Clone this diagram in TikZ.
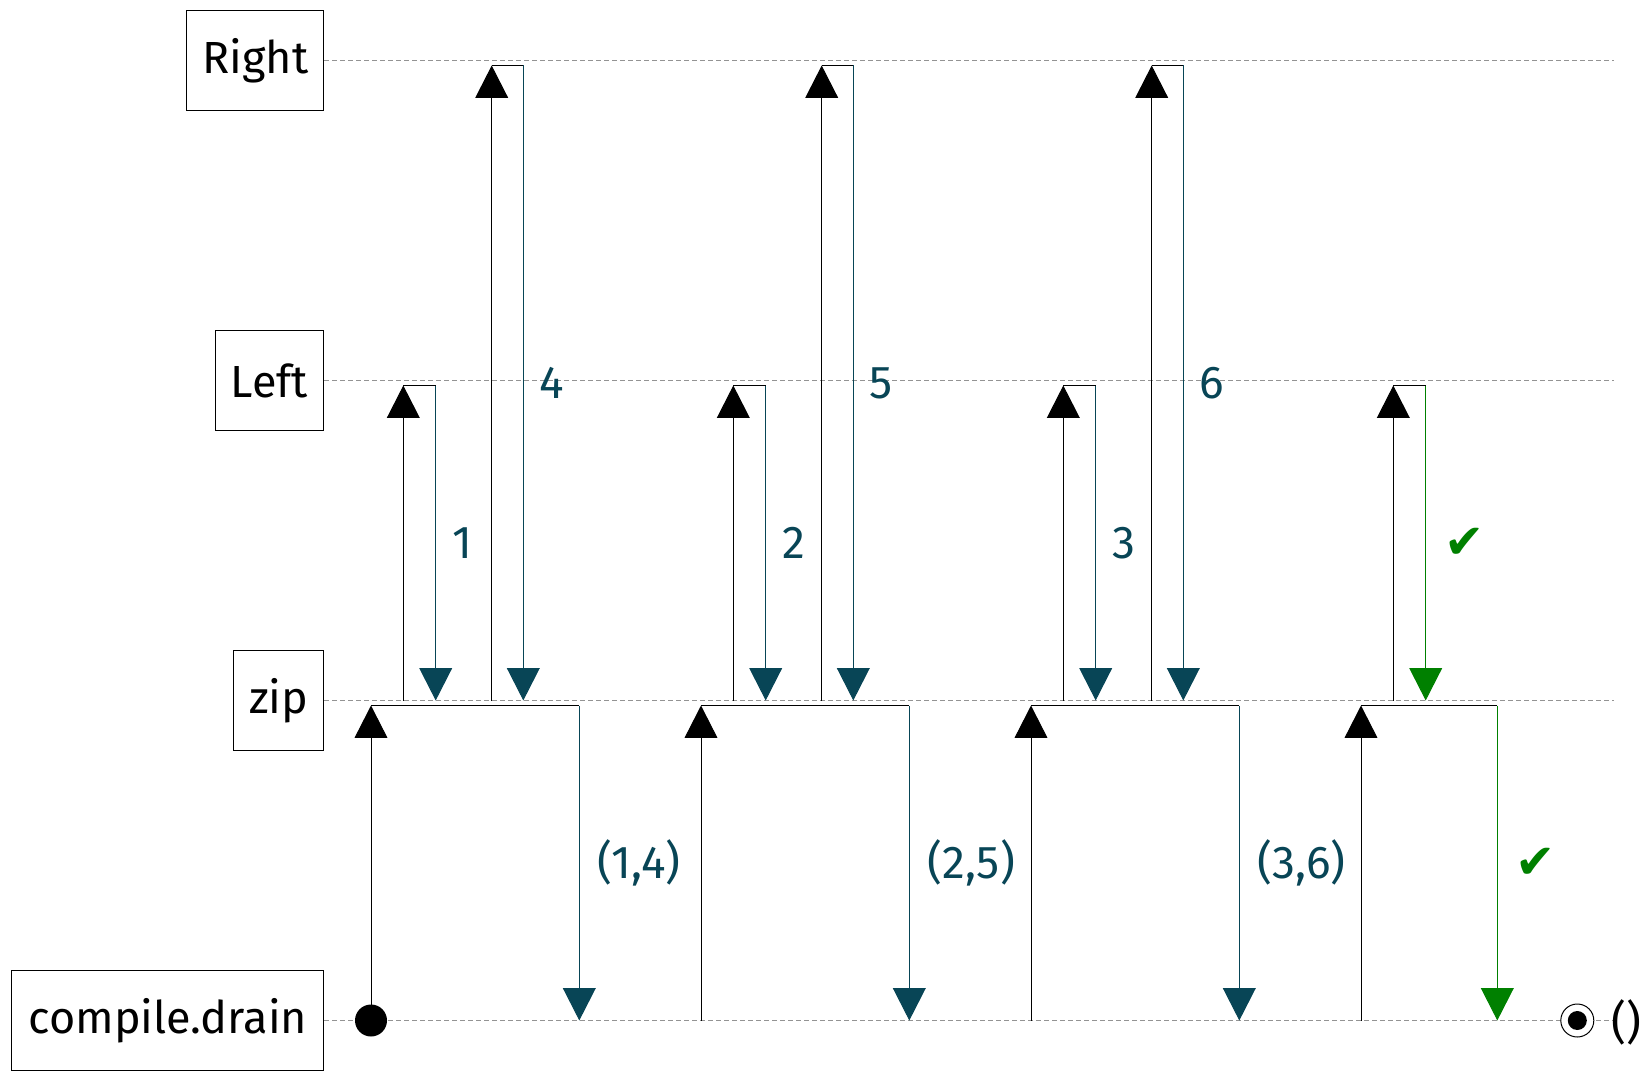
\documentclass[tikz,border=0pt]{standalone}
\usepackage{fontspec}
\setmainfont{Fira Sans}
\newfontfamily\symfont{DejaVu Sans}
\usetikzlibrary{arrows.meta}
\definecolor{tealc}{RGB}{8,69,86}
\definecolor{okgreen}{RGB}{0,128,0}
\tikzset{
  lane/.style={draw=gray!85, dash pattern=on 5pt off 3pt, line width=0.9pt},
  lanebox/.style={draw, line width=1pt, anchor=east, minimum height=100pt, inner sep=0pt, font=\fontsize{45}{54}\selectfont},
  flow/.style={line width=1pt, -{Triangle[width=32.7pt,length=32.3pt]}},
  plainline/.style={line width=1pt},
  lbl/.style={anchor=west, inner sep=0pt, font=\fontsize{46}{55}\selectfont, text=tealc},
  chk/.style={anchor=west, inner sep=0pt, font=\symfont\fontsize{48}{56}\selectfont, text=okgreen},
}
\begin{document}
\begin{tikzpicture}[x=1pt,y=-1pt]
\useasboundingbox (0,0) rectangle (1649,1081);
% lane labels
\node[lanebox, minimum width=137pt] (right) at (324.3,60.5) {Right};
\node[lanebox, minimum width=108.5pt] (left) at (324.3,380.5) {Left};
\node[lanebox, minimum width=90.5pt] (zip) at (324.3,700.5) {zip};
\node[lanebox, minimum width=312pt] (drain) at (324.3,1020.5) {compile.drain};
% lane ends
\coordinate (rightend) at (1614,60.5);
\coordinate (leftend) at (1614,380.5);
\coordinate (zipend) at (1614,700.5);
\coordinate (drainend) at (1614,1020.5);
\draw[lane] (right.east) -- (rightend);
\draw[lane] (left.east) -- (leftend);
\draw[lane] (zip.east) -- (zipend);
\draw[lane] (drain.east) -- (drainend);
% groups 1-3
\foreach \i/\a/\b/\c in {1/1/4/{(1,4)},2/2/5/{(2,5)},3/3/6/{(3,6)}}{
  \pgfmathsetmacro{\xo}{371+330*(\i-1)}
  \coordinate (d\i) at (\xo,1020.5);
  \coordinate (z\i) at (\xo,705.5);
  \coordinate (la\i) at (\xo+32.3,700.5);
  \coordinate (lt\i) at (\xo+32.3,385.5);
  \coordinate (lr\i) at (\xo+64.7,385.5);
  \coordinate (lb\i) at (\xo+64.7,700.5);
  \coordinate (ra\i) at (\xo+120.7,700.5);
  \coordinate (rt\i) at (\xo+120.7,65.5);
  \coordinate (rr\i) at (\xo+152.3,65.5);
  \coordinate (rb\i) at (\xo+152.3,700.5);
  \coordinate (ze\i) at (\xo+208.3,705.5);
  \coordinate (zb\i) at (\xo+208.3,1020.5);
  \draw[flow] (la\i) -- (lt\i);
  \draw[plainline] (lt\i) -- (lr\i);
  \draw[flow, draw=tealc] (lr\i) -- (lb\i) node[lbl, midway, xshift=16pt] {\a};
  \draw[flow] (ra\i) -- (rt\i);
  \draw[plainline] (rt\i) -- (rr\i);
  \draw[flow, draw=tealc] (rr\i) -- (rb\i) node[lbl, midway, xshift=16pt] {\b};
  \draw[flow] (d\i) -- (z\i);
  \draw[plainline] (z\i) -- (ze\i);
  \draw[flow, draw=tealc] (ze\i) -- (zb\i) node[lbl, midway, xshift=18pt] {\c};
}
% group 4
\coordinate (d4) at (1361,1020.5);
\coordinate (z4) at (1361,705.5);
\coordinate (la4) at (1393.3,700.5);
\coordinate (lt4) at (1393.3,385.5);
\coordinate (lr4) at (1425.7,385.5);
\coordinate (lb4) at (1425.7,700.5);
\coordinate (ze4) at (1497.3,705.5);
\coordinate (zb4) at (1497.3,1020.5);
\draw[flow] (la4) -- (lt4);
\draw[plainline] (lt4) -- (lr4);
\draw[flow, draw=okgreen] (lr4) -- (lb4) node[chk, midway, xshift=18pt] {✔};
\draw[flow] (d4) -- (z4);
\draw[plainline] (z4) -- (ze4);
\draw[flow, draw=okgreen] (ze4) -- (zb4) node[chk, midway, xshift=18pt] {✔};
% start and end markers
\node[circle, fill=black, minimum size=32pt, inner sep=0pt] (start) at (d1) {};
\node[circle, draw=black, fill=white, line width=1pt, minimum size=33pt, inner sep=0pt] (stop) at (1577.3,1020.5) {};
\node[circle, fill=black, minimum size=19pt, inner sep=0pt] (stopdot) at (stop.center) {};
\node[anchor=west, inner sep=0pt, font=\fontsize{46}{55}\selectfont] (unit) at (1611,1022) {()};
\end{tikzpicture}
\end{document}
